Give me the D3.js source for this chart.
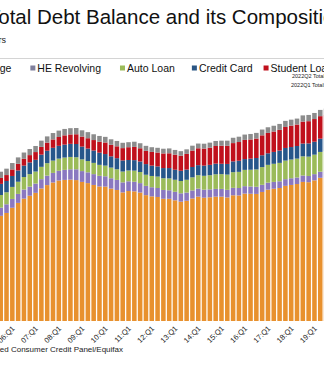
<!DOCTYPE html>
<html>
<head>
<meta charset="utf-8">
<script src="https://cdn.jsdelivr.net/npm/d3@7"></script>
<style>
  body { margin: 0; background: #fff; }
  svg { display: block; font-family: "Liberation Sans", Arial, sans-serif; }
</style>
</head>
<body>
<svg width="324" height="373"></svg>
<script>
var quarters = [
  "05:Q3", "05:Q4",
  "06:Q1", "06:Q2", "06:Q3", "06:Q4",
  "07:Q1", "07:Q2", "07:Q3", "07:Q4",
  "08:Q1", "08:Q2", "08:Q3", "08:Q4",
  "09:Q1", "09:Q2", "09:Q3", "09:Q4",
  "10:Q1", "10:Q2", "10:Q3", "10:Q4",
  "11:Q1", "11:Q2", "11:Q3", "11:Q4",
  "12:Q1", "12:Q2", "12:Q3", "12:Q4",
  "13:Q1", "13:Q2", "13:Q3", "13:Q4",
  "14:Q1", "14:Q2", "14:Q3", "14:Q4",
  "15:Q1", "15:Q2", "15:Q3", "15:Q4",
  "16:Q1", "16:Q2", "16:Q3", "16:Q4",
  "17:Q1", "17:Q2", "17:Q3", "17:Q4",
  "18:Q1", "18:Q2", "18:Q3", "18:Q4",
  "19:Q1", "19:Q2", "19:Q3"
];

// trillions of dollars
var mortgage = [
  6.91, 7.10,
  7.44, 7.76, 8.04, 8.23,
  8.42, 8.71, 8.93, 9.10,
  9.23, 9.27, 9.29, 9.26,
  9.14, 9.06, 8.94, 8.84,
  8.83, 8.70, 8.61, 8.45,
  8.54, 8.52, 8.44, 8.27,
  8.19, 8.15, 8.03, 8.03,
  7.93, 7.84, 7.90, 8.05,
  8.17, 8.10, 8.13, 8.17,
  8.17, 8.12, 8.26, 8.25,
  8.37, 8.36, 8.35, 8.48,
  8.63, 8.69, 8.74, 8.88,
  8.94, 9.00, 9.14, 9.12,
  9.24, 9.41, 9.44
];
var heRevolving = [
  0.54, 0.57,
  0.58, 0.59, 0.60, 0.60,
  0.61, 0.61, 0.62, 0.63,
  0.64, 0.66, 0.68, 0.71,
  0.71, 0.71, 0.71, 0.70,
  0.68, 0.68, 0.66, 0.66,
  0.64, 0.63, 0.62, 0.61,
  0.60, 0.59, 0.58, 0.56,
  0.56, 0.55, 0.54, 0.53,
  0.53, 0.53, 0.52, 0.51,
  0.51, 0.50, 0.49, 0.49,
  0.49, 0.48, 0.47, 0.47,
  0.46, 0.45, 0.44, 0.44,
  0.44, 0.43, 0.42, 0.41,
  0.41, 0.40, 0.40
];
var autoLoan = [
  0.83, 0.79,
  0.79, 0.80, 0.82, 0.82,
  0.79, 0.81, 0.82, 0.81,
  0.80, 0.81, 0.81, 0.79,
  0.77, 0.74, 0.74, 0.72,
  0.70, 0.70, 0.70, 0.71,
  0.71, 0.73, 0.73, 0.73,
  0.74, 0.75, 0.77, 0.78,
  0.79, 0.81, 0.84, 0.86,
  0.88, 0.91, 0.93, 0.96,
  0.97, 1.00, 1.03, 1.06,
  1.07, 1.10, 1.14, 1.16,
  1.17, 1.19, 1.21, 1.22,
  1.23, 1.24, 1.26, 1.27,
  1.28, 1.30, 1.32
];
var creditCard = [
  0.73, 0.74,
  0.72, 0.74, 0.75, 0.77,
  0.77, 0.80, 0.82, 0.84,
  0.84, 0.85, 0.86, 0.87,
  0.84, 0.82, 0.81, 0.80,
  0.76, 0.74, 0.73, 0.73,
  0.69, 0.69, 0.69, 0.70,
  0.68, 0.67, 0.67, 0.68,
  0.66, 0.67, 0.67, 0.68,
  0.66, 0.67, 0.68, 0.70,
  0.68, 0.70, 0.71, 0.73,
  0.71, 0.73, 0.75, 0.78,
  0.76, 0.78, 0.81, 0.83,
  0.82, 0.83, 0.84, 0.87,
  0.85, 0.87, 0.88
];
var studentLoan = [
  0.39, 0.39,
  0.43, 0.44, 0.45, 0.48,
  0.51, 0.51, 0.53, 0.55,
  0.58, 0.61, 0.62, 0.64,
  0.66, 0.68, 0.69, 0.72,
  0.76, 0.76, 0.78, 0.81,
  0.84, 0.87, 0.87, 0.87,
  0.90, 0.91, 0.96, 0.97,
  0.99, 0.99, 1.03, 1.08,
  1.11, 1.12, 1.13, 1.16,
  1.19, 1.19, 1.20, 1.23,
  1.26, 1.26, 1.28, 1.31,
  1.34, 1.34, 1.36, 1.38,
  1.41, 1.41, 1.44, 1.46,
  1.49, 1.48, 1.50
];
var other = [
  0.41, 0.42,
  0.42, 0.42, 0.41, 0.40,
  0.40, 0.41, 0.41, 0.42,
  0.42, 0.42, 0.41, 0.41,
  0.41, 0.40, 0.38, 0.38,
  0.37, 0.36, 0.35, 0.35,
  0.33, 0.34, 0.33, 0.33,
  0.31, 0.31, 0.31, 0.32,
  0.31, 0.30, 0.30, 0.32,
  0.31, 0.32, 0.33, 0.33,
  0.33, 0.34, 0.35, 0.35,
  0.35, 0.36, 0.37, 0.38,
  0.37, 0.38, 0.39, 0.40,
  0.39, 0.39, 0.41, 0.41,
  0.40, 0.41, 0.42
];

var seriesNames = ["Mortgage", "HE Revolving", "Auto Loan", "Credit Card", "Student Loan", "Other"];
var seriesColors = ["#e8912e", "#8a78c0", "#9bbb59", "#27568a", "#c0101c", "#8c8c8c"];
var legendColors = ["#e8912e", "#7f7f9c", "#9bbb59", "#2b5684", "#c0101c", "#8c8c8c"];

var svg = d3.select("svg");

var rows = quarters.map(function(q, i) {
  return {
    q: q,
    "Mortgage": mortgage[i],
    "HE Revolving": heRevolving[i],
    "Auto Loan": autoLoan[i],
    "Credit Card": creditCard[i],
    "Student Loan": studentLoan[i],
    "Other": other[i]
  };
});

var step = 5.81;
var x = d3.scaleBand()
  .domain(quarters)
  .range([-2.2, -2.2 + quarters.length * step])
  .paddingInner(0.22)
  .paddingOuter(0.11);

var y = d3.scaleLinear().domain([0, 16]).range([321, 77.5]);

var color = d3.scaleOrdinal().domain(seriesNames).range(seriesColors);

var stacked = d3.stack().keys(seriesNames)(rows);

svg.append("g").selectAll("g")
  .data(stacked)
  .join("g")
    .attr("fill", function(d) { return color(d.key); })
  .selectAll("rect")
  .data(function(d) { return d; })
  .join("rect")
    .attr("x", function(d) { return x(d.data.q); })
    .attr("width", x.bandwidth())
    .attr("y", function(d) { return y(d[1]); })
    .attr("height", function(d) { return y(d[0]) - y(d[1]); });

// quarter labels, Q1 only
var xAxis = d3.axisBottom(x)
  .tickValues(quarters.filter(function(q) { return q.slice(-2) == "Q1"; }))
  .tickSize(0)
  .tickPadding(0);

var axisG = svg.append("g")
  .attr("transform", "translate(0," + y(0) + ")")
  .call(xAxis);
axisG.select(".domain").remove();
axisG.selectAll("text")
  .attr("font-family", "Liberation Sans, Arial, sans-serif")
  .attr("font-size", 7.5)
  .attr("fill", "#222")
  .attr("text-anchor", "end")
  .attr("dy", null)
  .attr("y", 0)
  .attr("transform", "translate(3,8) rotate(-45)");

// title block
svg.append("text")
  .attr("x", -12)
  .attr("y", 24)
  .attr("font-size", 20.5)
  .attr("fill", "#111")
  .text("Total Debt Balance and its Composition");

svg.append("text")
  .attr("x", 6)
  .attr("y", 43)
  .attr("text-anchor", "end")
  .attr("font-size", 9)
  .attr("fill", "#222")
  .text("Trillions of Dollars");

svg.append("line")
  .attr("x1", 0).attr("x2", 324)
  .attr("y1", 58.5).attr("y2", 58.5)
  .attr("stroke", "#d4d4d4")
  .attr("stroke-width", 1);

// legend, spacing after each entry
var legendGaps = [19, 19, 17, 11, 18];
var legend = svg.append("g").attr("transform", "translate(0,72)");
var lx = -40;
seriesNames.forEach(function(name, i) {
  var item = legend.append("g").attr("transform", "translate(" + lx + ",0)");
  item.append("rect")
    .attr("x", 0).attr("y", -6.5)
    .attr("width", 5).attr("height", 5)
    .attr("fill", legendColors[i]);
  var t = item.append("text")
    .attr("x", 7)
    .attr("font-size", 10.5)
    .attr("fill", "#111")
    .text(name);
  lx += 7 + t.node().getComputedTextLength() + (legendGaps[i] || 18);
});

svg.append("text")
  .attr("x", 292).attr("y", 78)
  .attr("font-size", 5.5)
  .attr("fill", "#222")
  .text("2022Q2 Total: $16.15 Trillion");
svg.append("text")
  .attr("x", 291).attr("y", 86.5)
  .attr("font-size", 5.5)
  .attr("fill", "#222")
  .text("2022Q1 Total: $15.84 Trillion");

// source line
svg.append("text")
  .attr("x", 123)
  .attr("y", 352)
  .attr("text-anchor", "end")
  .attr("font-size", 8)
  .attr("fill", "#222")
  .text("Source: New York Fed Consumer Credit Panel/Equifax");
</script>
</body>
</html>
